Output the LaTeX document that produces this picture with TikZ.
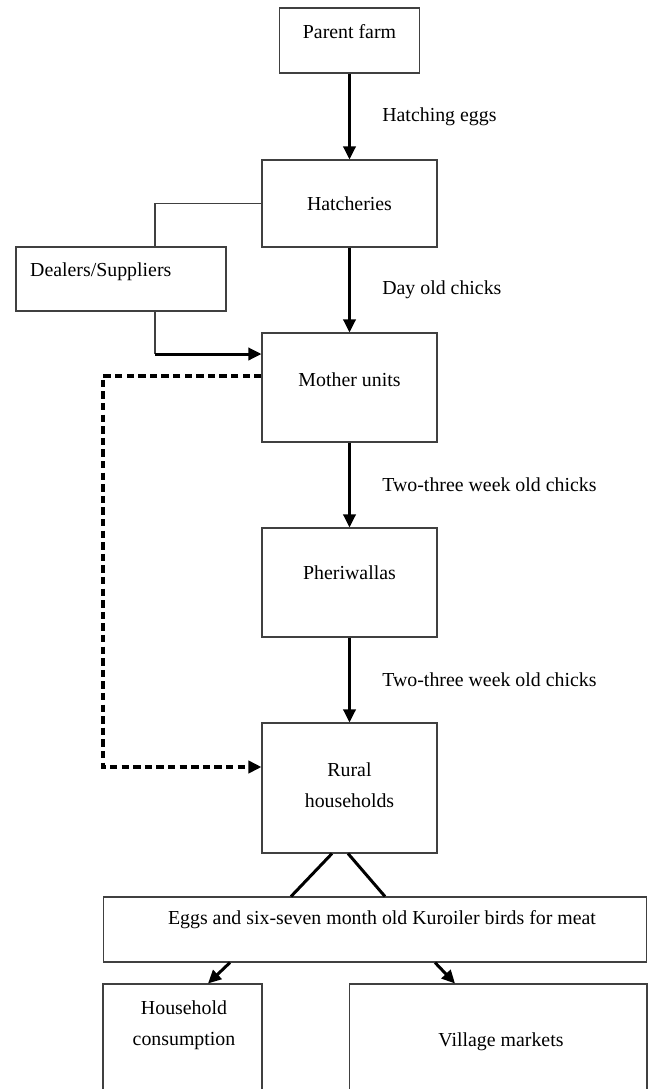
\documentclass[tikz,border=0pt]{standalone}
\usepackage{fontspec}
\setmainfont{Liberation Serif}
\usetikzlibrary{arrows.meta,calc}

\begin{document}
\begin{tikzpicture}[x=0.02cm,y=-0.02cm,
    font=\fontsize{11.3}{17.8}\selectfont,
    box/.style={draw=black!75,line width=0.6pt,inner sep=0pt},
    thinline/.style={draw=black!75,line width=0.6pt},
    flow/.style={line width=1.7pt,-{Triangle[length=7.5pt,width=7pt]}},
    dashflow/.style={line width=2pt,dash pattern=on 4.2pt off 2.4pt,-{Triangle[length=7.5pt,width=7pt]}},
    split/.style={line width=1.7pt}]
    \useasboundingbox (0,0) rectangle (650,1089);

    % 各个方框
    \node[box,minimum width=2.8cm,minimum height=1.3cm] (parent) at (349.5,40.5) {};
    \node[box,minimum width=3.5cm,minimum height=1.74cm] (hatch) at (349.5,203.5) {};
    \node[box,minimum width=4.2cm,minimum height=1.28cm] (dealers) at (121,279) {};
    \node[box,minimum width=3.5cm,minimum height=2.18cm] (mother) at (349.5,387.5) {};
    \node[box,minimum width=3.5cm,minimum height=2.18cm] (pheri) at (349.5,582.5) {};
    \node[box,minimum width=3.5cm,minimum height=2.6cm] (rural) at (349.5,788) {};
    \node[box,minimum width=10.88cm,minimum height=1.3cm] (eggs) at (375,929.5) {};
    \node[box,minimum width=3.18cm,minimum height=2.22cm] (house) at (182.5,1039.5) {};
    \node[box,minimum width=5.96cm,minimum height=2.22cm] (village) at (498,1039.5) {};

    % 方框里的文字
    \node (t-parent) at ($(parent.north)+(0,24)$) {Parent farm};
    \node (t-hatch) at ($(hatch.north)+(0,44)$) {Hatcheries};
    \node[anchor=west] (t-dealers) at ($(dealers.north west)+(8.5,25)$) {Dealers/Suppliers};
    \node (t-mother) at ($(mother.north)+(0,47)$) {Mother units};
    \node (t-pheri) at ($(pheri.north)+(0,45)$) {Pheriwallas};
    \node[align=center] (t-rural) at ($(rural.north)+(0,62.5)$) {Rural\\households};
    \node (t-eggs) at ($(eggs.north)+(7,23)$) {Eggs and six-seven month old Kuroiler birds for meat};
    \node[align=center] (t-house) at ($(house.north)+(1.5,42)$) {Household\\consumption};
    \node (t-village) at ($(village.north)+(3,58)$) {Village markets};

    % 主干上的粗箭头
    \draw[flow] (parent.south) -- (hatch.north)
        node[midway,anchor=west,xshift=0.51cm] (l-eggs) {Hatching eggs};
    \draw[flow] (hatch.south) -- (mother.north)
        node[midway,anchor=west,xshift=0.51cm] (l-day) {Day old chicks};
    \draw[flow] (mother.south) -- (pheri.north)
        node[midway,anchor=west,xshift=0.51cm] (l-two) {Two-three week old chicks};
    \draw[flow] (pheri.south) -- (rural.north)
        node[midway,anchor=west,xshift=0.51cm] (l-three) {Two-three week old chicks};

    % 经销商支路
    \coordinate (dx) at (155,0);
    \coordinate (dbend) at (155,354);
    \draw[thinline] (hatch.west) -| (dealers.north -| dx);
    \draw[thinline] (dealers.south -| dx) -- (dbend);
    \draw[flow] (dbend) -- (dbend -| mother.west);

    % 虚线: 母鸡单元直接到农户
    \coordinate (dtop) at (103,376);
    \coordinate (dbot) at (103,767);
    \draw[dashflow] (dtop -| mother.west) -- (dtop) -- (dbot) -- (dbot -| rural.west);

    % 农户到产品
    \draw[split] ($(rural.south)+(-17.5,0)$) -- ($(eggs.north)+(-84,0)$);
    \draw[split] ($(rural.south)+(-1.5,0)$) -- ($(eggs.north)+(10,0)$);

    % 产品的去向
    \draw[flow] ($(eggs.south)+(-145,0)$) -- ($(house.north)+(25.5,0)$);
    \draw[flow] ($(eggs.south)+(60,0)$) -- ($(village.north)+(-43,0)$);
\end{tikzpicture}
\end{document}
